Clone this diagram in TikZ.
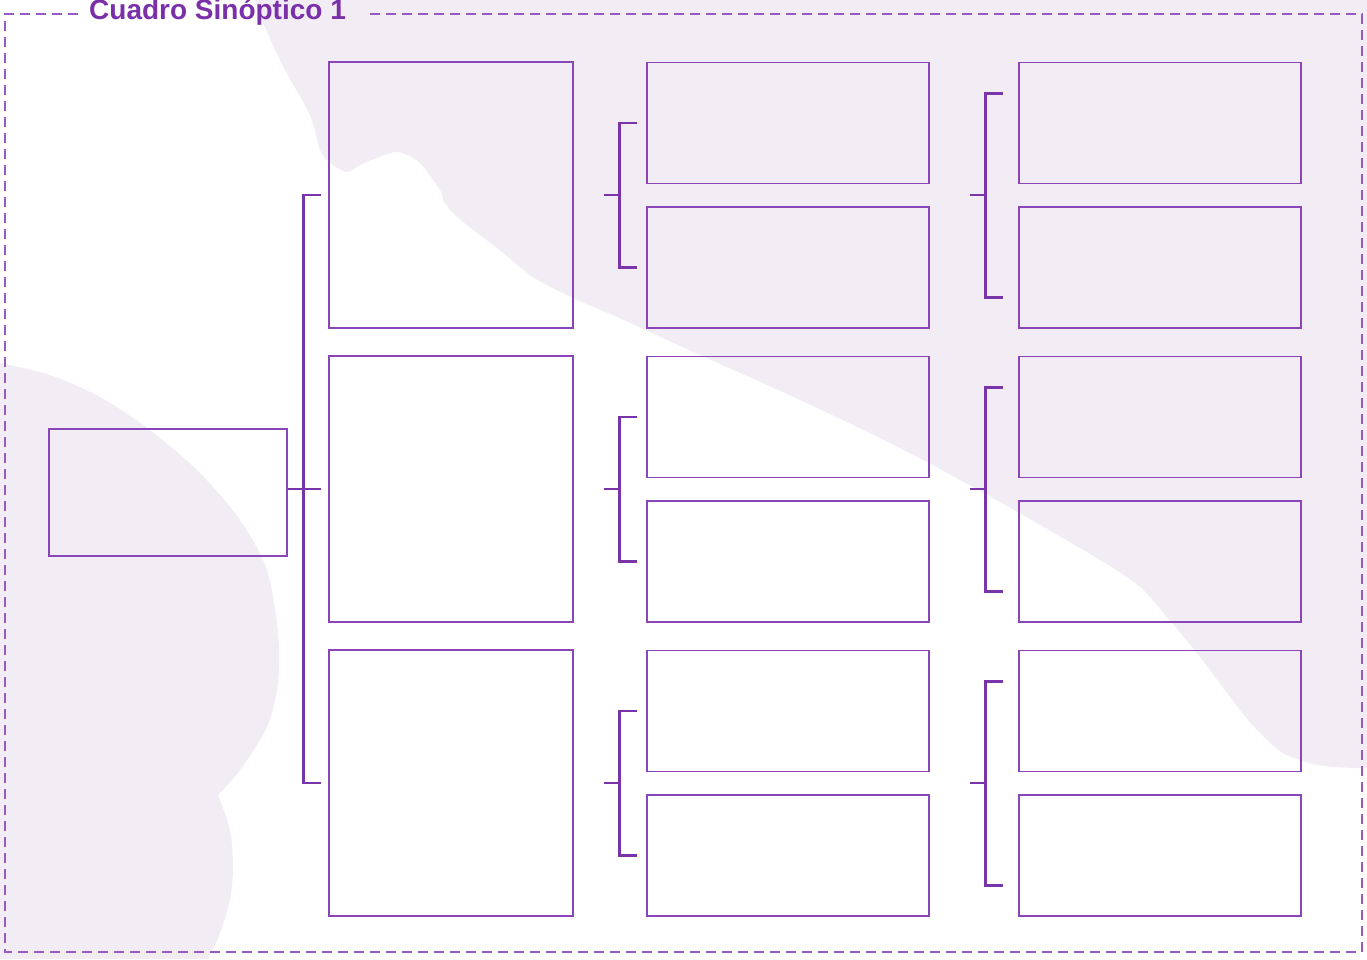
\documentclass[tikz,border=0pt]{standalone}
\usepackage{fontspec}
\setsansfont{Liberation Sans}
\usetikzlibrary{calc}
\definecolor{blobc}{RGB}{242,236,245}
\definecolor{brkc}{RGB}{122,52,170}
\definecolor{boxc}{RGB}{138,70,185}
\definecolor{framec}{RGB}{150,90,195}
\definecolor{titlec}{RGB}{122,48,168}
\begin{document}
\begin{tikzpicture}[x=1pt,y=-1pt,
  box/.style={draw=boxc,line width=1.4pt,inner sep=0pt},
  lonebox/.style={box,minimum width=244pt,minimum height=266pt},
  subbox/.style={box,minimum width=282pt,minimum height=121pt},
  brk/.style={draw=brkc,line width=2.8pt},
  frame/.style={draw=framec,line width=1.6pt,dash pattern=on 10pt off 6pt},
  blob/.style={fill=blobc}]
\useasboundingbox (0,0) rectangle (1367,959);
% background blobs
\fill[blob] (255,0) -- plot[smooth,tension=0.5] coordinates {(255,0) (263,23) (285,70) (310,115) (320,150) (330,163) (347,172) (360,165) (377,158) (398,152) (420,163) (442,193)}
  -- plot[smooth,tension=0.5] coordinates {(443,200) (457,217) (497,248) (533,277) (573,298) (617,317) (700,355) (800,400) (900,448) (1000,502) (1100,560) (1140,587) (1167,617) (1200,657) (1240,710) (1260,733) (1283,753) (1317,765) (1353,768) (1367,768)}
  -- (1367,0) -- cycle;
\fill[blob] (0,363) -- plot[smooth,tension=0.5] coordinates {(0,363) (50,375) (100,397) (150,430) (200,473) (240,520) (267,570) (278,633) (278,683) (267,727) (240,770) (218,795)}
  -- plot[smooth,tension=0.5] coordinates {(218,795) (230,830) (233,867) (230,900) (220,933) (208,959)}
  -- (0,959) -- cycle;
% frame and title
\draw[frame] (78,14) -- (5,14) -- (5,952) -- (1362,952) -- (1362,14) -- (370,14);
\node[anchor=base west,text=titlec,font=\sffamily\bfseries\fontsize{28}{30}\selectfont,inner sep=0pt] (title) at (89,19) {Cuadro Sinóptico 1};
% boxes
\node[box,minimum width=238pt,minimum height=127pt] (root) at (168,492.5) {};
\foreach \i/\y/\ya/\yb in {1/195/123/267.5, 2/489/417/561.5, 3/783/711/855.5}{
  \node[lonebox] (l1-\i) at (451,\y) {};
  \node[subbox] (l2a-\i) at (788,\ya) {};
  \node[subbox] (l2b-\i) at (788,\yb) {};
  \node[subbox] (l3a-\i) at (1160,\ya) {};
  \node[subbox] (l3b-\i) at (1160,\yb) {};
}
% main bracket
\draw[brk] ([xshift=-7pt]l1-1.west) -| ($(l1-3.west)+(-25,0)$) -- ([xshift=-7pt]l1-3.west);
\draw[brk] (root.east |- l1-2.west) -- ([xshift=-7pt]l1-2.west);
% sub brackets
\foreach \i in {1,2,3}{
  \coordinate (v2-\i) at ($(l2a-\i.west)+(-27,0)$);
  \coordinate (s2-\i) at ($(l1-\i.east)+(30,0)$);
  \draw[brk] ([xshift=-9pt]l2a-\i.west) -| (v2-\i |- l2b-\i.west) -- ([xshift=-9pt]l2b-\i.west);
  \draw[brk] (s2-\i) -- (s2-\i -| v2-\i);
  \coordinate (v3t-\i) at ($(l3a-\i.north west)+(-33,32)$);
  \coordinate (v3b-\i) at ($(l3b-\i.south west)+(-33,-31)$);
  \coordinate (s3-\i) at ($(l2a-\i.east |- l1-\i.east)+(40,0)$);
  \draw[brk] ($(v3t-\i)+(18,0)$) -- (v3t-\i) -- (v3b-\i) -- ($(v3b-\i)+(18,0)$);
  \draw[brk] (s3-\i) -- (s3-\i -| v3t-\i);
}
\end{tikzpicture}
\end{document}
